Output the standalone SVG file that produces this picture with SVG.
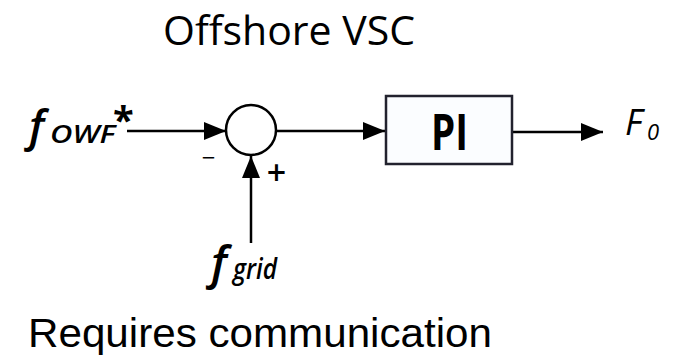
<svg xmlns="http://www.w3.org/2000/svg" width="684" height="360" viewBox="0 0 684 360">
  <style>
    .t { font-family: "Open Sans", "Liberation Sans", sans-serif; fill: #000; }
    .m { font-family: "Open Sans", "Liberation Sans", sans-serif; font-style: italic; fill: #000; }
    .ln { stroke: #000; stroke-width: 2.5; fill: none; }
  </style>
  <defs>
    <marker id="ahb" viewBox="0 0 22 18" refX="22" refY="9" markerWidth="22" markerHeight="18" orient="auto" markerUnits="userSpaceOnUse">
      <path d="M0,0 L22,9 L0,18 Z" fill="#000"/>
    </marker>
  </defs>
  <rect width="684" height="360" fill="#fff"/>

  <text id="title" class="t" x="163" y="45" font-size="40" textLength="252" lengthAdjust="spacingAndGlyphs">Offshore VSC</text>

  <g id="connectors">
    <line class="ln" x1="127" y1="131" x2="226" y2="131" marker-end="url(#ahb)"/>
    <line class="ln" x1="276" y1="131" x2="385" y2="131" marker-end="url(#ahb)"/>
    <line class="ln" x1="512" y1="132" x2="603" y2="132" marker-end="url(#ahb)"/>
    <line class="ln" x1="251" y1="243" x2="251" y2="156" marker-end="url(#ahb)"/>
  </g>

  <g id="sum">
    <circle cx="251" cy="130" r="25" fill="#fff" stroke="#000" stroke-width="2.5"/>
    <text class="t" x="208.5" y="166" font-size="24" text-anchor="middle">−</text>
    <text class="t" x="276.5" y="185" font-size="34" font-weight="600" text-anchor="middle">+</text>
  </g>

  <g id="pi">
    <rect x="386" y="96" width="126" height="68" fill="#fbfdff" stroke="#22222e" stroke-width="2.5"/>
    <text class="t" x="431" y="150" font-size="50" font-weight="bold" textLength="37" lengthAdjust="spacingAndGlyphs">PI</text>
  </g>

  <g id="f_owf">
    <text class="m" x="29" y="142" font-size="44" font-weight="600">f</text>
    <text class="m" x="50" y="143" font-size="25" font-weight="600" textLength="65" lengthAdjust="spacingAndGlyphs">OWF</text>
    <text class="t" x="113" y="134" font-size="38" font-weight="bold">*</text>
  </g>

  <g id="f_grid">
    <text class="m" x="211" y="279" font-size="46" font-weight="600">f</text>
    <text class="m" x="233" y="279" font-size="28" font-weight="600" textLength="44" lengthAdjust="spacingAndGlyphs">grid</text>
  </g>

  <g id="f_o">
    <text class="m" x="625" y="135" font-size="36">F</text>
    <text class="m" x="647" y="140" font-size="22">0</text>
  </g>

  <text id="footer" x="28" y="347" font-family="Liberation Sans, Arial, sans-serif" font-size="41" textLength="464" lengthAdjust="spacingAndGlyphs">Requires communication</text>
</svg>
